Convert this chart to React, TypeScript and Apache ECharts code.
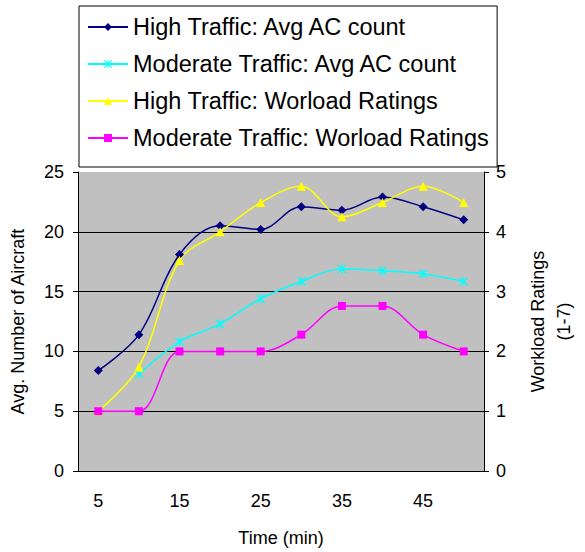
import React, { useEffect, useRef } from "react";
import * as echarts from "echarts";

const categories = ["5", "10", "15", "20", "25", "30", "35", "40", "45", "50"];
const highAC = [8.4, 11.4, 18.1, 20.5, 20.2, 22.1, 21.8, 22.9, 22.1, 21.0];
const modAC = [null, 8.1, 10.8, 12.3, 14.4, 15.85, 16.9, 16.75, 16.5, 15.85];
const highWL = [1.0, 1.74, 3.52, 4.0, 4.49, 4.76, 4.25, 4.49, 4.76, 4.49];
const modWL = [1.0, 1.0, 2.0, 2.0, 2.0, 2.28, 2.76, 2.76, 2.28, 2.0];

const seriesNames = [
  "High Traffic: Avg AC count",
  "Moderate Traffic: Avg AC count",
  "High Traffic: Worload Ratings",
  "Moderate Traffic: Worload Ratings",
];

const asterisk =
  "path://M0 1L1 0L10 9L9 10Z M9 0L10 1L1 10L0 9Z M4.4 0H5.6V10H4.4Z";

const FONT = "Liberation Sans, Arial, sans-serif";

export default function App() {
  const ref = useRef<HTMLDivElement>(null);
  useEffect(() => {
    const chart = echarts.init(ref.current!, null, { renderer: "svg" });
    chart.setOption({
      animation: false,
      backgroundColor: "#fff",
      textStyle: { fontFamily: FONT },
      legend: {
        orient: "vertical",
        left: 79,
        top: 6,
        padding: [9, 8, 17, 8],
        borderColor: "#000",
        borderWidth: 1,
        itemWidth: 40,
        itemHeight: 10,
        itemGap: 13,
        textStyle: { fontSize: 23.5, color: "#000", fontFamily: FONT, lineHeight: 24 },
        data: seriesNames,
      },
      grid: {
        left: 78,
        right: 87,
        top: 172,
        bottom: 78,
        show: true,
        backgroundColor: "#c0c0c0",
        borderWidth: 0,
      },
      xAxis: {
        type: "category",
        data: categories,
        boundaryGap: true,
        name: "Time (min)",
        nameLocation: "middle",
        nameGap: 58,
        nameTextStyle: { fontSize: 18, color: "#000" },
        axisLine: { lineStyle: { color: "#000", width: 1 } },
        axisTick: { interval: 0, length: 5, lineStyle: { color: "#000" } },
        axisLabel: { interval: 1, fontSize: 18, color: "#000", margin: 21 },
      },
      yAxis: [
        {
          type: "value",
          min: 0,
          max: 25,
          interval: 5,
          name: "Avg. Number of Aircraft",
          nameLocation: "middle",
          nameRotate: 90,
          nameGap: 51,
          nameTextStyle: { fontSize: 18, color: "#000" },
          axisLine: { show: true, lineStyle: { color: "#000" } },
          axisTick: { show: true, length: 5, lineStyle: { color: "#000" } },
          axisLabel: { fontSize: 18, color: "#000", margin: 14 },
          splitLine: {
            show: true,
            lineStyle: {
              color: ["#000", "#000", "#000", "#000", "#000", "rgba(0,0,0,0)"],
              width: 1,
            },
          },
        },
        {
          type: "value",
          min: 0,
          max: 5,
          interval: 1,
          position: "right",
          name: "Workload Ratings\n(1-7)",
          nameLocation: "middle",
          nameRotate: 90,
          nameGap: 41,
          nameTextStyle: { fontSize: 18, color: "#000", lineHeight: 26 },
          axisLine: { show: true, lineStyle: { color: "#000" } },
          axisTick: { show: true, length: 5, lineStyle: { color: "#000" } },
          axisLabel: { fontSize: 18, color: "#000", margin: 12 },
          splitLine: { show: false },
        },
      ],
      series: [
        {
          name: seriesNames[0],
          type: "line",
          yAxisIndex: 0,
          data: highAC,
          smooth: 0.35,
          symbol: "diamond",
          symbolSize: 9,
          color: "#000080",
          lineStyle: { width: 1.5, color: "#000080" },
          itemStyle: { color: "#000080" },
        },
        {
          name: seriesNames[1],
          type: "line",
          yAxisIndex: 0,
          data: modAC,
          smooth: 0.35,
          symbol: asterisk,
          symbolSize: 9,
          color: "#00ffff",
          lineStyle: { width: 1.5, color: "#00ffff" },
          itemStyle: { color: "#00ffff" },
        },
        {
          name: seriesNames[2],
          type: "line",
          yAxisIndex: 1,
          data: highWL,
          smooth: 0.35,
          symbol: "triangle",
          symbolSize: 9,
          color: "#ffff00",
          lineStyle: { width: 1.5, color: "#ffff00" },
          itemStyle: { color: "#ffff00" },
        },
        {
          name: seriesNames[3],
          type: "line",
          yAxisIndex: 1,
          data: modWL,
          smooth: 0.35,
          symbol: "rect",
          symbolSize: 8,
          color: "#ff00ff",
          lineStyle: { width: 1.5, color: "#ff00ff" },
          itemStyle: { color: "#ff00ff" },
        },
      ],
    });
    return () => chart.dispose();
  }, []);
  return (
    <div
      ref={ref}
      style={{ position: "absolute", left: 0, top: 0, width: 585, height: 552 }}
    />
  );
}
